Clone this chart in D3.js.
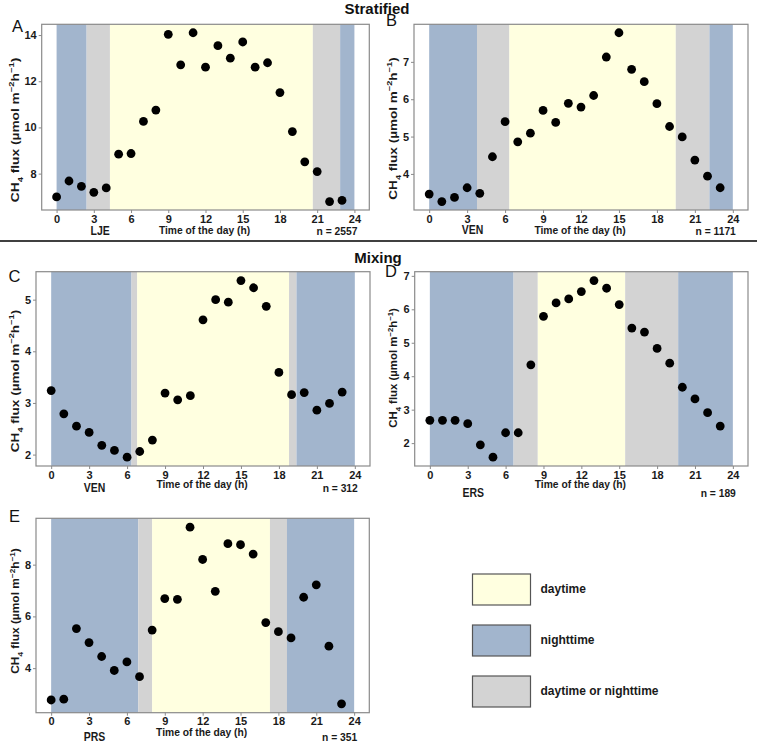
<!DOCTYPE html>
<html>
<head>
<meta charset="utf-8">
<script src="https://cdn.jsdelivr.net/npm/d3@7"></script>
<style>
  body { margin: 0; background: #fff; }
  svg { display: block; font-family: "Liberation Sans", Arial, sans-serif; }
  .tick text { font-weight: bold; }
</style>
</head>
<body>
<svg id="chart" width="757" height="746"></svg>
<script>

// hour of the day
var hours = [0, 1, 2, 3, 4, 5, 6, 7, 8, 9, 10, 11, 12, 13, 14, 15, 16, 17, 18, 19, 20, 21, 22, 23];

// CH4 flux per panel
var fluxA = [6.99, 7.68, 7.45, 7.19, 7.38, 8.84, 8.87, 10.26, 10.75, 14.03, 12.71, 14.10,
             12.61, 13.54, 13.00, 13.70, 12.61, 12.80, 11.51, 9.82, 8.51, 8.09, 6.79, 6.84];
var fluxB = [3.46, 3.26, 3.37, 3.63, 3.48, 4.46, 5.40, 4.86, 5.09, 5.70, 5.38, 5.89,
             5.79, 6.10, 7.13, 7.78, 6.80, 6.47, 5.88, 5.27, 4.99, 4.37, 3.94, 3.63];
var fluxC = [3.24, 2.79, 2.55, 2.43, 2.18, 2.08, 1.95, 2.06, 2.28, 3.19, 3.06, 3.14,
             4.61, 5.00, 4.95, 5.37, 5.23, 4.87, 3.59, 3.16, 3.20, 2.86, 2.99, 3.21];
var fluxD = [2.68, 2.68, 2.68, 2.58, 1.95, 1.58, 2.31, 2.31, 4.34, 5.79, 6.19, 6.31,
             6.53, 6.86, 6.63, 6.14, 5.44, 5.32, 4.83, 4.39, 3.67, 3.32, 2.91, 2.51];
var fluxE = [2.77, 2.80, 5.53, 4.99, 4.45, 3.91, 4.24, 3.67, 5.47, 6.69, 6.66, 9.45,
             8.20, 6.97, 8.81, 8.77, 8.41, 5.76, 5.41, 5.17, 6.74, 7.22, 4.85, 2.62];

// shading boundaries (h): night | twilight | day | twilight | night
var bandsA = [0, 2.42, 4.3, 20.65, 22.85, 24];
var bandsB = [0, 3.78, 6.34, 19.49, 22.15, 24];
var bandsC = [0, 6.35, 6.8, 18.8, 19.39, 24];
var bandsD = [0, 6.63, 8.55, 15.47, 19.67, 24];
var bandsE = [0, 6.9, 8.0, 17.33, 18.68, 24];
var bandKinds = ["nighttime", "daytime or nighttime", "daytime", "daytime or nighttime", "nighttime"];

// ticks
var xTicks = [0, 3, 6, 9, 12, 15, 18, 21, 24];
var yTicksA = [8, 10, 12, 14];
var yTicksB = [4, 5, 6, 7];
var yTicksC = [2, 3, 4, 5];
var yTicksD = [2, 3, 4, 5, 6, 7];
var yTicksE = [4, 6, 8];

var panelLetters = ["A", "B", "C", "D", "E"];
var sites = ["LJE", "VEN", "VEN", "ERS", "PRS"];
var counts = [2557, 1171, 312, 189, 351];
var legendItems = ["daytime", "nighttime", "daytime or nighttime"];

var color = d3.scaleOrdinal()
  .domain(legendItems)
  .range(["#ffffe0", "#a2b5cd", "#d3d3d3"]);

var svg = d3.select("#chart");
var S = 1.13; // text in the original looks a bit stretched vertically
var ink = "#1a1a1a";

// layout: frame box, column origin, letter position, y title (centre, length), label baselines
var panels = [
  { flux: fluxA, bands: bandsA, ticks: yTicksA, col: 0,   l: 41.7,  r: 369.3, t: 24.3,  b: 210,
    letter: [12, 31.7],  yt: [130, 145], base: [25, 24.3, 25] },
  { flux: fluxB, bands: bandsB, ticks: yTicksB, col: 378, l: 414,   r: 748,   t: 24.3,  b: 210,
    letter: [386, 26],   yt: [128.5, 143], base: [24, 24.3, 25] },
  { flux: fluxC, bands: bandsC, ticks: yTicksC, col: 0,   l: 36,    r: 370,   t: 271.7, b: 466,
    letter: [8.5, 281.7], yt: [381, 143], base: [26.3, 21.7, 26.3] },
  { flux: fluxD, bands: bandsD, ticks: yTicksD, col: 378, l: 414.7, r: 748,   t: 271.7, b: 466,
    letter: [385, 276.7], yt: [368, 120], base: [30.7, 21.7, 30.7] },
  { flux: fluxE, bands: bandsE, ticks: yTicksE, col: 0,   l: 36,    r: 369.3, t: 518.3, b: 712.7,
    letter: [9, 521.7],  yt: [611, 126], base: [28, 23, 28] }
];

function hText(sel, x, y) {
  sel.attr("transform", "translate(" + x + "," + y + ") scale(1," + S + ")");
}

panels.forEach(function(p, i) {

  var x = d3.scaleLinear().domain([-1.2, 25.2]).range([p.l, p.r]);
  var ext = d3.extent(p.flux);
  var pad = (ext[1] - ext[0]) * 0.05;
  var y = d3.scaleLinear().domain([ext[0] - pad, ext[1] + pad]).range([p.b, p.t]);

  var g = svg.append("g");

  // background bands
  g.selectAll("rect.band")
    .data(bandKinds)
    .enter()
    .append("rect")
    .attr("class", "band")
    .attr("x", function(d, j) { return x(p.bands[j]); })
    .attr("width", function(d, j) { return x(p.bands[j + 1]) - x(p.bands[j]); })
    .attr("y", p.t)
    .attr("height", p.b - p.t)
    .attr("fill", function(d) { return color(d); });

  // points
  g.selectAll("circle")
    .data(hours)
    .enter()
    .append("circle")
    .attr("cx", function(d) { return x(d); })
    .attr("cy", function(d, j) { return y(p.flux[j]); })
    .attr("r", 4.4)
    .attr("fill", "#000");

  // frame
  g.append("rect")
    .attr("x", p.l).attr("y", p.t)
    .attr("width", p.r - p.l).attr("height", p.b - p.t)
    .attr("fill", "none").attr("stroke", "#8a8a8a").attr("stroke-width", 1.2);

  // axes
  var xAxis = g.append("g")
    .attr("transform", "translate(0," + p.b + ")")
    .call(d3.axisBottom(x).tickValues(xTicks).tickFormat(d3.format("d")).tickSize(3).tickPadding(2));
  var yAxis = g.append("g")
    .attr("transform", "translate(" + p.l + ",0)")
    .call(d3.axisLeft(y).tickValues(p.ticks).tickFormat(d3.format("d")).tickSize(3).tickPadding(2));

  [xAxis, yAxis].forEach(function(a) {
    a.select(".domain").remove();
    a.selectAll(".tick line").attr("stroke", "#8a8a8a");
    a.selectAll(".tick text").attr("fill", ink).style("font-size", "11px");
  });

  // y title, stretched to the length seen in the figure
  var yt = g.append("text")
    .attr("text-anchor", "middle")
    .attr("dominant-baseline", "middle")
    .style("font-size", "11px").style("font-weight", "bold").attr("fill", ink);
  yt.append("tspan").text("CH");
  yt.append("tspan").text("4").attr("baseline-shift", "sub").style("font-size", "7.5px");
  yt.append("tspan").text(" flux (\u00b5mol m");
  yt.append("tspan").text("\u22122").attr("baseline-shift", "super").style("font-size", "7.5px");
  yt.append("tspan").text("h");
  yt.append("tspan").text("\u22121").attr("baseline-shift", "super").style("font-size", "7.5px");
  yt.append("tspan").text(")");
  var w = yt.node().getBBox().width;
  yt.attr("transform", "translate(" + (p.col + 16.5) + "," + p.yt[0] + ") rotate(-90) scale(" + (p.yt[1] / w) + ",1)");

  // bottom labels
  var site = g.append("text").text(sites[i])
    .attr("text-anchor", "middle")
    .style("font-size", "10.5px").style("font-weight", "bold").attr("fill", ink);
  hText(site, p.l + 58.5, p.b + p.base[0]);

  var xt = g.append("text").text("Time of the day (h)")
    .attr("text-anchor", "middle")
    .style("font-size", "10.3px").style("font-weight", "bold").attr("fill", ink);
  hText(xt, x(12) - 1, p.b + p.base[1]);

  var nt = g.append("text").text("n = " + counts[i])
    .attr("text-anchor", "end")
    .style("font-size", "10.3px").style("font-weight", "bold").attr("fill", ink);
  hText(nt, x(24) + 3, p.b + p.base[2]);

  // panel letter
  svg.append("text").text(panelLetters[i])
    .attr("x", p.letter[0]).attr("y", p.letter[1])
    .style("font-size", "16.5px").attr("fill", "#111");
});

// section titles and divider
svg.append("text").text("Stratified")
  .attr("x", 377).attr("y", 13.5).attr("text-anchor", "middle")
  .style("font-size", "15px").style("font-weight", "bold").attr("fill", "#111");
svg.append("line")
  .attr("x1", 0).attr("x2", 757).attr("y1", 241).attr("y2", 241)
  .attr("stroke", "#404040").attr("stroke-width", 2);
svg.append("text").text("Mixing")
  .attr("x", 378).attr("y", 262.5).attr("text-anchor", "middle")
  .style("font-size", "15px").style("font-weight", "bold").attr("fill", "#111");

// legend
var legend = svg.append("g").attr("transform", "translate(472.5,574)");
var item = legend.selectAll("g")
  .data(legendItems)
  .enter()
  .append("g")
  .attr("transform", function(d, i) { return "translate(0," + (i * 51) + ")"; });

item.append("rect")
  .attr("width", 58).attr("height", 31)
  .attr("fill", function(d) { return color(d); })
  .attr("stroke", "#555").attr("stroke-width", 1.2);

item.append("text")
  .text(function(d) { return d; })
  .attr("x", 68).attr("y", 16)
  .attr("dominant-baseline", "middle")
  .style("font-size", "12px").style("font-weight", "bold").attr("fill", ink);

</script>
</body>
</html>
